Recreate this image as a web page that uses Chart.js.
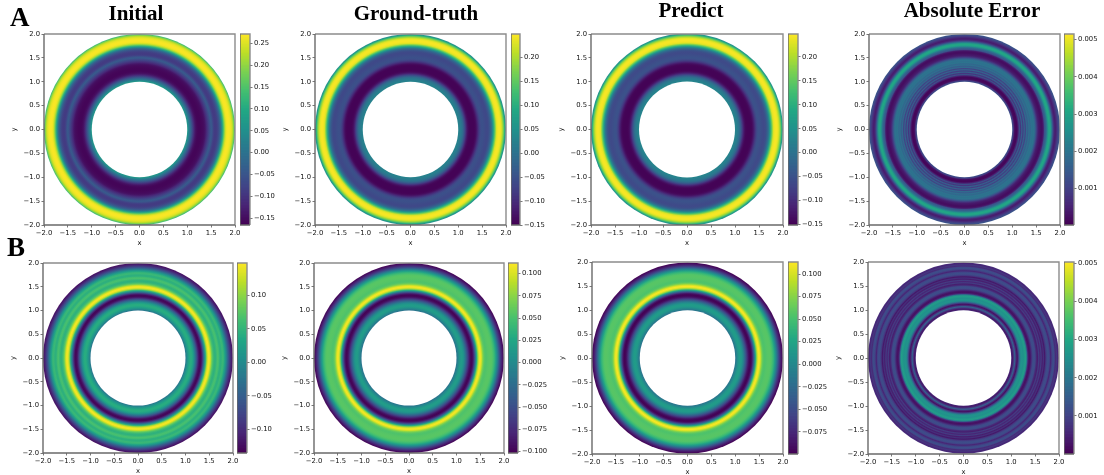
<!DOCTYPE html>
<html>
<head>
<meta charset="utf-8">
<title>Annulus panels</title>
<script src="https://cdn.jsdelivr.net/npm/chart.js@4"></script>
<style>
  html, body { margin: 0; padding: 0; background: #fff; }
  #page { position: relative; width: 1104px; height: 475px; overflow: hidden; }
  #page canvas { position: absolute; filter: blur(0.6px); }
  .title, .letter {
    position: absolute; font-family: "Liberation Serif", serif; font-weight: bold;
    color: #000; white-space: nowrap; line-height: 1; filter: blur(0.3px);
  }
  .title { font-size: 21px; transform: translateX(-50%); }
  .letter { font-size: 27px; }
</style>
</head>
<body>
<div id="page"></div>
<script>
// ==========================================
// Data (radial profiles)
// ==========================================
const radii = [1.00, 1.025, 1.05, 1.075, 1.10, 1.125, 1.15, 1.175, 1.20, 1.225, 1.25, 1.275, 1.30, 1.325, 1.35, 1.375, 1.40, 1.425, 1.45, 1.475, 1.50, 1.525, 1.55, 1.575, 1.60, 1.625, 1.65, 1.675, 1.70, 1.725, 1.75, 1.775, 1.80, 1.825, 1.85, 1.875, 1.90, 1.925, 1.95, 1.975, 2.00];

const initialA = [.07, .04, .01, -.025, -.06, -.095, -.125, -.145, -.155, -.16, -.16, -.16, -.158, -.155, -.15, -.14, -.12, -.1, -.08, -.06, -.04, -.055, -.08, -.09, -.09, -.085, -.07, -.045, -.01, .05, .12, .19, .24, .262, .268, .268, .262, .25, .225, .18, .12];
const truthA = [.025, .022, .015, .005, -.015, -.045, -.08, -.115, -.135, -.145, -.148, -.148, -.148, -.148, -.145, -.135, -.115, -.09, -.07, -.056, -.052, -.054, -.058, -.062, -.064, -.062, -.05, -.03, 0, .05, .11, .17, .225, .24, .245, .243, .232, .2, .155, .09, .03];
const predictA = [.028, .024, .016, .006, -.014, -.044, -.08, -.114, -.135, -.146, -.149, -.149, -.149, -.148, -.145, -.134, -.114, -.088, -.068, -.054, -.05, -.053, -.057, -.061, -.063, -.06, -.049, -.028, .003, .053, .113, .172, .226, .24, .245, .243, .232, .202, .158, .093, .033];
const errorA = [.0013, .0009, .0002, .0001, .0001, .0005, .0013, .0008, .0016, .0009, .0017, .0010, .0018, .0015, .0019, .0017, .0020, .0019, .0020, .0017, .0012, .0007, .0004, .0003, .0002, .0002, .0004, .0013, .0016, .0021, .0028, .0031, .0029, .0021, .0012, .0006, .0004, .0006, .0009, .0012, .0014];

const initialB = [-.025, -.005, .015, .03, .04, .04, .03, .01, -.02, -.05, -.085, -.115, -.13, -.13, -.105, -.055, -.005, .05, .11, .14, .145, .125, .09, .065, .05, .045, .055, .065, .06, .045, .045, .055, .05, .03, .005, -.025, -.055, -.08, -.1, -.115, -.125];
const truthB = [-.02, -.01, .002, .012, .016, .014, .005, -.01, -.03, -.05, -.07, -.088, -.098, -.1, -.088, -.06, -.02, .03, .075, .103, .11, .098, .075, .06, .053, .052, .054, .055, .056, .056, .054, .048, .038, .022, .002, -.02, -.045, -.065, -.08, -.092, -.1];
const predictB = [-.018, -.008, .004, .013, .017, .015, .006, -.009, -.03, -.05, -.07, -.088, -.097, -.099, -.087, -.059, -.019, .031, .077, .105, .112, .1, .077, .061, .054, .053, .055, .056, .057, .057, .055, .049, .039, .023, .003, -.019, -.044, -.064, -.08, -.091, -.099];
const errorB = [.0006, .0003, .0008, .0016, .0006, .0002, .0009, .0019, .0025, .0026, .0025, .0027, .0028, .0020, .0005, .0002, .0003, .0007, .0011, .0012, .0011, .0006, .0004, .0009, .0005, .0009, .0004, .0007, .0003, .0008, .0011, .0012, .0010, .0005, .0009, .0012, .0011, .0006, .0008, .0005, .0007];

const profiles = [initialA, truthA, predictA, errorA, initialB, truthB, predictB, errorB];

const axisTicks = [-2, -1.5, -1, -0.5, 0, 0.5, 1, 1.5, 2];

const vMin = [-.165, -.15, -.151, .00002, -.135, -.1015, -.0994, 0];
const vMax = [.271, .248, .248, .00515, .148, .112, .1133, .00504];
const barTicks = [
  [-.15, -.10, -.05, 0, .05, .10, .15, .20, .25],
  [-.15, -.10, -.05, 0, .05, .10, .15, .20],
  [-.15, -.10, -.05, 0, .05, .10, .15, .20],
  [.001, .002, .003, .004, .005],
  [-.10, -.05, 0, .05, .10],
  [-.100, -.075, -.050, -.025, 0, .025, .050, .075, .100],
  [-.075, -.050, -.025, 0, .025, .050, .075, .100],
  [.001, .002, .003, .004, .005],
];
const barDecimals = [2, 2, 2, 3, 2, 3, 3, 3];

const titles = ['Initial', 'Ground-truth', 'Predict', 'Absolute Error'];

// ==========================================
// Layout (plot left, right, top, bottom, colorbar left, right)
// ==========================================
const boxes = [
  [43.7, 235, 33.7, 224.7, 240, 249.7],
  [314.7, 506, 33.7, 224.7, 510.7, 520],
  [591.3, 783, 33.7, 224.7, 787.7, 797.3],
  [868.7, 1059.7, 33.7, 224.7, 1064.3, 1074],
  [42.7, 232.3, 263, 453, 237.3, 247],
  [314.3, 504, 263, 453, 508.3, 518],
  [592, 783.3, 262, 453.7, 788.3, 798],
  [868.3, 1059.3, 262, 453.7, 1064.3, 1074],
];
const titleSpots = [[136, 3], [416, 3], [691, 0], [972, 0]];

const AXIS_W = 34;
const AXIS_H = 22;
const BAR_W = 30;
const PAD = 8;
const TICK_FONT = { family: '"DejaVu Sans"', size: 6.8 };
const TEXT_COLOR = '#111';

// ==========================================
// Helpers
// ==========================================
const viridis = ['#440154', '#482475', '#414487', '#355f8d', '#2a788e', '#21918c', '#22a884', '#44bf70', '#7ad151', '#bddf26', '#fde725'];

function colorAt(t) {
  const pos = Math.min(Math.max(t, 0), 1) * (viridis.length - 1);
  const i = Math.min(Math.floor(pos), viridis.length - 2);
  const hex = (s, k) => parseInt(s.slice(1 + k * 2, 3 + k * 2), 16);
  const mix = [0, 1, 2].map(k => Math.round(hex(viridis[i], k) + (hex(viridis[i + 1], k) - hex(viridis[i], k)) * (pos - i)));
  return `rgb(${mix.join(',')})`;
}

const minus = (text) => text.replace('-', '\u2212');

const framePlugin = {
  id: 'frame',
  afterDraw(chart) {
    const { ctx, chartArea: a } = chart;
    ctx.save();
    ctx.lineWidth = 1.4;
    ctx.strokeStyle = '#8c8c8c';
    ctx.beginPath();
    ctx.moveTo(a.left, a.top); ctx.lineTo(a.right, a.top); ctx.lineTo(a.right, a.bottom);
    ctx.stroke();
    ctx.strokeStyle = '#6a6a6a';
    ctx.beginPath();
    ctx.moveTo(a.left, a.top); ctx.lineTo(a.left, a.bottom); ctx.lineTo(a.right, a.bottom);
    ctx.stroke();
    ctx.restore();
  }
};

function addCanvas(left, top, width, height) {
  const canvas = document.createElement('canvas');
  canvas.style.left = left + 'px';
  canvas.style.top = top + 'px';
  canvas.width = width;
  canvas.height = height;
  canvas.style.width = width + 'px';
  canvas.style.height = height + 'px';
  document.getElementById('page').appendChild(canvas);
  return canvas;
}

const tickLabelOptions = (callback) => ({
  font: TICK_FONT, color: TEXT_COLOR, padding: 1.5,
  maxRotation: 0, minRotation: 0, autoSkip: false, callback
});

const tickGrid = { drawOnChartArea: false, drawTicks: true, tickLength: 2.5, tickColor: '#555', tickWidth: 0.8 };

// ==========================================
// Ring panel
// ==========================================
function ringGradient(chart, values, low, high) {
  const { x, y } = chart.scales;
  const cx = x.getPixelForValue(0);
  const cy = y.getPixelForValue(0);
  const outer = radii[radii.length - 1];
  const size = Math.abs(x.getPixelForValue(outer) - cx);
  // options get resolved once before the scales are laid out
  if (!Number.isFinite(cx) || !Number.isFinite(cy) || !Number.isFinite(size)) return '#fff';
  const gradient = chart.ctx.createRadialGradient(cx, cy, 0, cx, cy, size);
  radii.forEach((r, i) => gradient.addColorStop(r / outer, colorAt((values[i] - low) / (high - low))));
  return gradient;
}

function drawPanel(index) {
  const [left, right, top, bottom] = boxes[index];
  const values = profiles[index];

  // outer disc carries the profile, the hole goes on top of it
  const discs = [
    { x: 0, y: 0, edge: radii[radii.length - 1], hole: false },
    { x: 0, y: 0, edge: radii[0], hole: true }
  ];

  const canvas = addCanvas(left - AXIS_W, top - PAD, Math.round(right - left) + AXIS_W + PAD, Math.round(bottom - top) + PAD + AXIS_H);
  const axis = (label, fit) => ({
    type: 'linear', min: -2, max: 2,
    afterBuildTicks: (scale) => { scale.ticks = axisTicks.map(value => ({ value })); },
    afterFit: fit,
    ticks: tickLabelOptions((v) => minus(Number(v).toFixed(1))),
    grid: tickGrid,
    border: { display: false },
    title: { display: true, text: label, font: TICK_FONT, color: TEXT_COLOR, padding: 0 }
  });

  new Chart(canvas, {
    type: 'scatter',
    data: {
      datasets: [{
        data: discs,
        clip: 0,
        pointRadius: (ctx) => {
          const x = ctx.chart.scales.x;
          const r = Math.abs(x.getPixelForValue(ctx.raw.edge) - x.getPixelForValue(0));
          return Number.isFinite(r) ? r : 0;
        },
        pointBorderWidth: 0,
        pointBackgroundColor: (ctx) => ctx.raw.hole ? '#fff' : ringGradient(ctx.chart, values, vMin[index], vMax[index])
      }]
    },
    options: {
      responsive: false,
      animation: false,
      events: [],
      layout: { padding: { top: PAD, right: PAD } },
      plugins: { legend: { display: false }, tooltip: { enabled: false } },
      scales: {
        x: axis('x', (s) => { s.height = AXIS_H; }),
        y: axis('y', (s) => { s.width = AXIS_W; })
      }
    },
    plugins: [framePlugin]
  });
}

// ==========================================
// Colorbar
// ==========================================
function drawColorbar(index) {
  const [, , top, bottom, left, right] = boxes[index];
  const span = vMax[index] - vMin[index];
  const levels = Array.from({ length: 128 }, (_, i) => (i + 1) / 128);
  const tickValues = barTicks[index];
  const decimals = barDecimals[index];

  const canvas = addCanvas(left, top - PAD, Math.round(right - left) + BAR_W, Math.round(bottom - top) + PAD * 2);

  new Chart(canvas, {
    type: 'bar',
    data: {
      labels: [''],
      datasets: levels.map(t => ({
        data: [[vMin[index], vMin[index] + span * t]],
        backgroundColor: colorAt(t - 0.5 / 128),
        barPercentage: 1,
        categoryPercentage: 1,
        grouped: false
      }))
    },
    options: {
      responsive: false,
      animation: false,
      events: [],
      layout: { padding: { top: PAD, bottom: PAD } },
      plugins: { legend: { display: false }, tooltip: { enabled: false } },
      scales: {
        x: { display: false },
        y: {
          position: 'right',
          min: vMin[index], max: vMax[index],
          afterBuildTicks: (scale) => { scale.ticks = tickValues.map(value => ({ value })); },
          afterFit: (s) => { s.width = BAR_W; },
          ticks: tickLabelOptions((v) => minus(Number(v).toFixed(decimals))),
          grid: tickGrid,
          border: { display: false }
        }
      }
    },
    plugins: [framePlugin]
  });
}

// ==========================================
// Text
// ==========================================
function addText(className, text, left, top) {
  const el = document.createElement('div');
  el.className = className;
  el.textContent = text;
  el.style.left = left + 'px';
  el.style.top = top + 'px';
  document.getElementById('page').appendChild(el);
}

titles.forEach((t, i) => addText('title', t, titleSpots[i][0], titleSpots[i][1]));
addText('letter', 'A', 10, 4);
addText('letter', 'B', 7, 234);

profiles.forEach((_, i) => {
  drawPanel(i);
  drawColorbar(i);
});
</script>
</body>
</html>
